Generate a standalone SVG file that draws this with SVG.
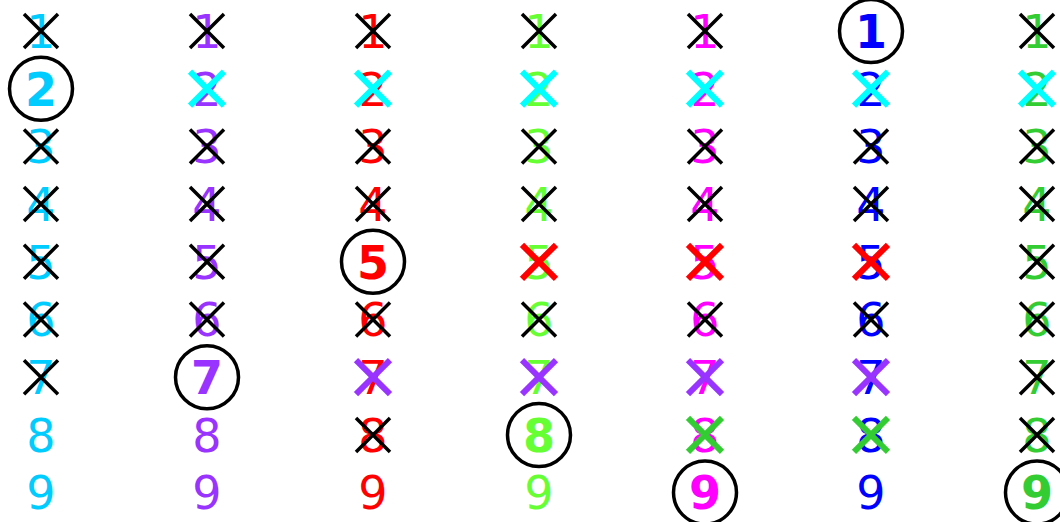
<svg xmlns="http://www.w3.org/2000/svg" xmlns:xlink="http://www.w3.org/1999/xlink" width="1060" height="522" viewBox="0 0 1060 522">
<style>
text{font-family:"DejaVu Sans","Liberation Sans",sans-serif;font-size:46px;text-anchor:middle}
.b{font-weight:bold}
.c1{fill:#00ccff}.c2{fill:#9933ff}.c3{fill:#ff0000}.c4{fill:#66ff33}.c5{fill:#ff00ff}.c6{fill:#0000ff}.c7{fill:#33cc33}
.xk{stroke:#000;stroke-width:3.5;fill:none}
.xc{stroke:#00ffff;stroke-width:6;fill:none}
.xp{stroke:#9933ff;stroke-width:6;fill:none}
.xr{stroke:#ff0000;stroke-width:6;fill:none}
.xg{stroke:#33cc33;stroke-width:6;fill:none}
.ring{fill:none;stroke:#000;stroke-width:3.5}
</style>
<defs><path id="xm" d="M-17,-17L17,17M17,-17L-17,17"/></defs>
<rect width="1060" height="522" fill="#fff"/>
<g id="col1">
<g id="c1r1"><text class="c1" x="41" y="47.8">1</text><use href="#xm" class="xk" x="41" y="31"/></g>
<g id="c1r2"><text class="c1 b" x="41" y="105.5">2</text><circle class="ring" cx="41" cy="88.7" r="31.5"/></g>
<g id="c1r3"><text class="c1" x="41" y="163.2">3</text><use href="#xm" class="xk" x="41" y="146.4"/></g>
<g id="c1r4"><text class="c1" x="41" y="220.9">4</text><use href="#xm" class="xk" x="41" y="204.1"/></g>
<g id="c1r5"><text class="c1" x="41" y="278.6">5</text><use href="#xm" class="xk" x="41" y="261.8"/></g>
<g id="c1r6"><text class="c1" x="41" y="336.3">6</text><use href="#xm" class="xk" x="41" y="319.5"/></g>
<g id="c1r7"><text class="c1" x="41" y="394">7</text><use href="#xm" class="xk" x="41" y="377.2"/></g>
<g id="c1r8"><text class="c1" x="41" y="451.7">8</text></g>
<g id="c1r9"><text class="c1" x="41" y="509.4">9</text></g>
</g>
<g id="col2">
<g id="c2r1"><text class="c2" x="207" y="47.8">1</text><use href="#xm" class="xk" x="207" y="31"/></g>
<g id="c2r2"><text class="c2" x="207" y="105.5">2</text><use href="#xm" class="xc" x="207" y="88.7"/></g>
<g id="c2r3"><text class="c2" x="207" y="163.2">3</text><use href="#xm" class="xk" x="207" y="146.4"/></g>
<g id="c2r4"><text class="c2" x="207" y="220.9">4</text><use href="#xm" class="xk" x="207" y="204.1"/></g>
<g id="c2r5"><text class="c2" x="207" y="278.6">5</text><use href="#xm" class="xk" x="207" y="261.8"/></g>
<g id="c2r6"><text class="c2" x="207" y="336.3">6</text><use href="#xm" class="xk" x="207" y="319.5"/></g>
<g id="c2r7"><text class="c2 b" x="207" y="394">7</text><circle class="ring" cx="207" cy="377.2" r="31.5"/></g>
<g id="c2r8"><text class="c2" x="207" y="451.7">8</text></g>
<g id="c2r9"><text class="c2" x="207" y="509.4">9</text></g>
</g>
<g id="col3">
<g id="c3r1"><text class="c3" x="373" y="47.8">1</text><use href="#xm" class="xk" x="373" y="31"/></g>
<g id="c3r2"><text class="c3" x="373" y="105.5">2</text><use href="#xm" class="xc" x="373" y="88.7"/></g>
<g id="c3r3"><text class="c3" x="373" y="163.2">3</text><use href="#xm" class="xk" x="373" y="146.4"/></g>
<g id="c3r4"><text class="c3" x="373" y="220.9">4</text><use href="#xm" class="xk" x="373" y="204.1"/></g>
<g id="c3r5"><text class="c3 b" x="373" y="278.6">5</text><circle class="ring" cx="373" cy="261.8" r="31.5"/></g>
<g id="c3r6"><text class="c3" x="373" y="336.3">6</text><use href="#xm" class="xk" x="373" y="319.5"/></g>
<g id="c3r7"><text class="c3" x="373" y="394">7</text><use href="#xm" class="xp" x="373" y="377.2"/></g>
<g id="c3r8"><text class="c3" x="373" y="451.7">8</text><use href="#xm" class="xk" x="373" y="434.9"/></g>
<g id="c3r9"><text class="c3" x="373" y="509.4">9</text></g>
</g>
<g id="col4">
<g id="c4r1"><text class="c4" x="539" y="47.8">1</text><use href="#xm" class="xk" x="539" y="31"/></g>
<g id="c4r2"><text class="c4" x="539" y="105.5">2</text><use href="#xm" class="xc" x="539" y="88.7"/></g>
<g id="c4r3"><text class="c4" x="539" y="163.2">3</text><use href="#xm" class="xk" x="539" y="146.4"/></g>
<g id="c4r4"><text class="c4" x="539" y="220.9">4</text><use href="#xm" class="xk" x="539" y="204.1"/></g>
<g id="c4r5"><text class="c4" x="539" y="278.6">5</text><use href="#xm" class="xr" x="539" y="261.8"/></g>
<g id="c4r6"><text class="c4" x="539" y="336.3">6</text><use href="#xm" class="xk" x="539" y="319.5"/></g>
<g id="c4r7"><text class="c4" x="539" y="394">7</text><use href="#xm" class="xp" x="539" y="377.2"/></g>
<g id="c4r8"><text class="c4 b" x="539" y="451.7">8</text><circle class="ring" cx="539" cy="434.9" r="31.5"/></g>
<g id="c4r9"><text class="c4" x="539" y="509.4">9</text></g>
</g>
<g id="col5">
<g id="c5r1"><text class="c5" x="705" y="47.8">1</text><use href="#xm" class="xk" x="705" y="31"/></g>
<g id="c5r2"><text class="c5" x="705" y="105.5">2</text><use href="#xm" class="xc" x="705" y="88.7"/></g>
<g id="c5r3"><text class="c5" x="705" y="163.2">3</text><use href="#xm" class="xk" x="705" y="146.4"/></g>
<g id="c5r4"><text class="c5" x="705" y="220.9">4</text><use href="#xm" class="xk" x="705" y="204.1"/></g>
<g id="c5r5"><text class="c5" x="705" y="278.6">5</text><use href="#xm" class="xr" x="705" y="261.8"/></g>
<g id="c5r6"><text class="c5" x="705" y="336.3">6</text><use href="#xm" class="xk" x="705" y="319.5"/></g>
<g id="c5r7"><text class="c5" x="705" y="394">7</text><use href="#xm" class="xp" x="705" y="377.2"/></g>
<g id="c5r8"><text class="c5" x="705" y="451.7">8</text><use href="#xm" class="xg" x="705" y="434.9"/></g>
<g id="c5r9"><text class="c5 b" x="705" y="509.4">9</text><circle class="ring" cx="705" cy="492.6" r="31.5"/></g>
</g>
<g id="col6">
<g id="c6r1"><text class="c6 b" x="871" y="47.8">1</text><circle class="ring" cx="871" cy="31" r="31.5"/></g>
<g id="c6r2"><text class="c6" x="871" y="105.5">2</text><use href="#xm" class="xc" x="871" y="88.7"/></g>
<g id="c6r3"><text class="c6" x="871" y="163.2">3</text><use href="#xm" class="xk" x="871" y="146.4"/></g>
<g id="c6r4"><text class="c6" x="871" y="220.9">4</text><use href="#xm" class="xk" x="871" y="204.1"/></g>
<g id="c6r5"><text class="c6" x="871" y="278.6">5</text><use href="#xm" class="xr" x="871" y="261.8"/></g>
<g id="c6r6"><text class="c6" x="871" y="336.3">6</text><use href="#xm" class="xk" x="871" y="319.5"/></g>
<g id="c6r7"><text class="c6" x="871" y="394">7</text><use href="#xm" class="xp" x="871" y="377.2"/></g>
<g id="c6r8"><text class="c6" x="871" y="451.7">8</text><use href="#xm" class="xg" x="871" y="434.9"/></g>
<g id="c6r9"><text class="c6" x="871" y="509.4">9</text></g>
</g>
<g id="col7">
<g id="c7r1"><text class="c7" x="1037" y="47.8">1</text><use href="#xm" class="xk" x="1037" y="31"/></g>
<g id="c7r2"><text class="c7" x="1037" y="105.5">2</text><use href="#xm" class="xc" x="1037" y="88.7"/></g>
<g id="c7r3"><text class="c7" x="1037" y="163.2">3</text><use href="#xm" class="xk" x="1037" y="146.4"/></g>
<g id="c7r4"><text class="c7" x="1037" y="220.9">4</text><use href="#xm" class="xk" x="1037" y="204.1"/></g>
<g id="c7r5"><text class="c7" x="1037" y="278.6">5</text><use href="#xm" class="xk" x="1037" y="261.8"/></g>
<g id="c7r6"><text class="c7" x="1037" y="336.3">6</text><use href="#xm" class="xk" x="1037" y="319.5"/></g>
<g id="c7r7"><text class="c7" x="1037" y="394">7</text><use href="#xm" class="xk" x="1037" y="377.2"/></g>
<g id="c7r8"><text class="c7" x="1037" y="451.7">8</text><use href="#xm" class="xk" x="1037" y="434.9"/></g>
<g id="c7r9"><text class="c7 b" x="1037" y="509.4">9</text><circle class="ring" cx="1037" cy="492.6" r="31.5"/></g>
</g>
<g id="connectors"/>
</svg>
